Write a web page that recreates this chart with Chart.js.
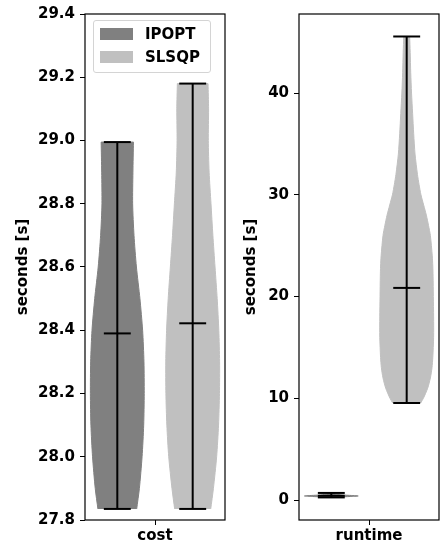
<!DOCTYPE html>
<html>
<head>
<meta charset="utf-8">
<script src="https://cdn.jsdelivr.net/npm/chart.js@4.4.1/dist/chart.umd.min.js"></script>
<style>
  html, body { margin: 0; padding: 0; background: #fff; }
  #wrap { position: relative; width: 441px; height: 549px; }
  #wrap canvas { position: absolute; top: 0; }
  #cv_cost { left: 0; }
  #cv_run { left: 230px; }
  .legend { position: absolute; left: 93px; top: 20px; width: 116px; height: 51px;
            border: 1px solid #d4d4d4; border-radius: 3px; background: rgba(255,255,255,0.8);
            font: bold 15px "DejaVu Sans"; color: #000; }
  .legend .sw { position: absolute; left: 6px; width: 33px; height: 12px; }
  .legend .lbl { position: absolute; left: 51px; line-height: 18px; white-space: nowrap; }
</style>
</head>
<body>
<div id="wrap">
  <canvas id="cv_cost" width="230" height="549"></canvas>
  <canvas id="cv_run" width="211" height="549"></canvas>
  <div class="legend">
    <div class="sw" style="top:7px;background:#808080"></div><div class="lbl" style="top:4px">IPOPT</div>
    <div class="sw" style="top:30px;background:#c0c0c0"></div><div class="lbl" style="top:27px">SLSQP</div>
  </div>
</div>
<script>
var solvers = ["IPOPT", "SLSQP"];
var costTicks = [27.8, 28.0, 28.2, 28.4, 28.6, 28.8, 29.0, 29.2, 29.4];
var runtimeTicks = [0, 10, 20, 30, 40];

// violin outlines: level and relative half width (1 = widest)
var ipoptCostY = [27.835, 27.9, 28.0, 28.1, 28.2, 28.3, 28.4, 28.5, 28.6, 28.7, 28.8, 28.9, 28.995];
var ipoptCostW = [0.72, 0.82, 0.92, 0.98, 1.0, 0.99, 0.94, 0.84, 0.71, 0.62, 0.57, 0.58, 0.6];
var slsqpCostY = [27.835, 27.9, 28.0, 28.1, 28.2, 28.3, 28.4, 28.5, 28.6, 28.7, 28.8, 28.9, 29.0, 29.1, 29.18];
var slsqpCostW = [0.67, 0.77, 0.89, 0.96, 0.995, 1.0, 0.97, 0.91, 0.83, 0.75, 0.68, 0.61, 0.58, 0.59, 0.57];
var ipoptRunY = [0.26, 0.3, 0.35, 0.4, 0.45, 0.5, 0.55, 0.6, 0.7];
var ipoptRunW = [0.15, 0.3, 0.7, 1.0, 0.75, 0.4, 0.25, 0.15, 0.08];
var slsqpRunY = [9.54, 10, 11, 12, 13, 14, 16, 18, 20, 22, 23, 24, 26, 27, 28, 29, 30, 31, 32, 34, 36, 38, 40, 42, 44, 45.56];
var slsqpRunW = [0.52, 0.62, 0.78, 0.88, 0.94, 0.97, 1.0, 1.0, 0.99, 0.98, 0.97, 0.95, 0.88, 0.81, 0.73, 0.63, 0.53, 0.46, 0.4, 0.31, 0.26, 0.22, 0.18, 0.15, 0.13, 0.11];

var costMin = [27.835, 27.835];
var costMean = [28.39, 28.422];
var costMax = [28.995, 29.18];
var runMin = [0.26, 9.54];
var runMean = [0.42, 20.85];
var runMax = [0.70, 45.56];

var FILL = ["#808080", "#c0c0c0"];
var POS = [-0.7, 0.7];
var HALF = 0.5, CAP = 0.25;
var FONT = { family: "DejaVu Sans", size: 15, weight: "bold" };

var frame = {
  id: "frame",
  afterDraw: function (c) {
    var a = c.chartArea, ctx = c.ctx;
    ctx.save();
    ctx.strokeStyle = "#000";
    ctx.lineWidth = 1.2;
    ctx.strokeRect(a.left, a.top, a.right - a.left, a.bottom - a.top);
    ctx.restore();
  }
};

function violin(ys, ws, i) {
  var n = ys.length, pts = [];
  for (var k = 0; k < n; k++) pts.push({ x: POS[i] + ws[k] * HALF, y: ys[k] });
  // repeat the top corner so the spline keeps the flat cut
  pts.push({ x: POS[i] + ws[n - 1] * HALF, y: ys[n - 1] });
  pts.push({ x: POS[i] - ws[n - 1] * HALF, y: ys[n - 1] });
  for (var k = n - 1; k >= 0; k--) pts.push({ x: POS[i] - ws[k] * HALF, y: ys[k] });
  pts.push({ x: POS[i] - ws[0] * HALF, y: ys[0] });
  return { label: solvers[i], data: pts, showLine: true, fill: "shape", tension: 0.25,
           backgroundColor: FILL[i], borderColor: FILL[i], borderWidth: 1, pointRadius: 0, order: 2 };
}

function seg(x0, y0, x1, y1) {
  return { data: [{ x: x0, y: y0 }, { x: x1, y: y1 }], showLine: true, fill: false,
           borderColor: "#000", borderWidth: 2, pointRadius: 0, order: 1 };
}

function statLines(mins, means, maxs) {
  var out = [];
  for (var i = 0; i < solvers.length; i++) {
    var p = POS[i];
    out.push(seg(p, mins[i], p, maxs[i]));
    out.push(seg(p - CAP, mins[i], p + CAP, mins[i]));
    out.push(seg(p - CAP, maxs[i], p + CAP, maxs[i]));
    out.push(seg(p - CAP, means[i], p + CAP, means[i]));
  }
  return out;
}

function makeChart(id, datasets, group, ticks, yMin, yMax, yWidth, padRight, titlePad, fmt) {
  return new Chart(document.getElementById(id), {
    type: "scatter",
    data: { datasets: datasets },
    plugins: [frame],
    options: {
      responsive: false,
      animation: false,
      devicePixelRatio: 1,
      layout: { padding: { top: 13, right: padRight, bottom: 0, left: 0 } },
      plugins: { legend: { display: false }, tooltip: { enabled: false } },
      scales: {
        x: {
          type: "linear", min: -1.3, max: 1.3,
          afterBuildTicks: function (s) { s.ticks = [{ value: 0 }]; },
          afterFit: function (s) { s.height = 29; },
          border: { display: false },
          grid: { display: true, drawOnChartArea: false, drawTicks: true, tickLength: 5, tickColor: "#000", tickWidth: 1 },
          ticks: { color: "#000", font: FONT, padding: 2, maxRotation: 0, callback: function () { return group; } }
        },
        y: {
          type: "linear", min: yMin, max: yMax,
          afterBuildTicks: function (s) { s.ticks = ticks.map(function (v) { return { value: v }; }); },
          afterFit: function (s) { s.width = yWidth; },
          border: { display: false },
          grid: { display: true, drawOnChartArea: false, drawTicks: true, tickLength: 5, tickColor: "#000", tickWidth: 1 },
          ticks: { color: "#000", font: FONT, padding: 5, callback: fmt },
          title: { display: true, text: "seconds [s]", color: "#000", font: FONT, padding: { top: titlePad, bottom: 0 } }
        }
      }
    }
  });
}

var costSets = statLines(costMin, costMean, costMax)
  .concat([violin(ipoptCostY, ipoptCostW, 0), violin(slsqpCostY, slsqpCostW, 1)]);
var runSets = statLines(runMin, runMean, runMax)
  .concat([violin(ipoptRunY, ipoptRunW, 0), violin(slsqpRunY, slsqpRunW, 1)]);

makeChart("cv_cost", costSets, "cost", costTicks, 27.8, 29.4, 85, 5, 14,
  function (v) { return v.toFixed(1); });
makeChart("cv_run", runSets, "runtime", runtimeTicks, -1.96, 47.77, 69, 2, 12,
  function (v) { return String(v); });
</script>
</body>
</html>
